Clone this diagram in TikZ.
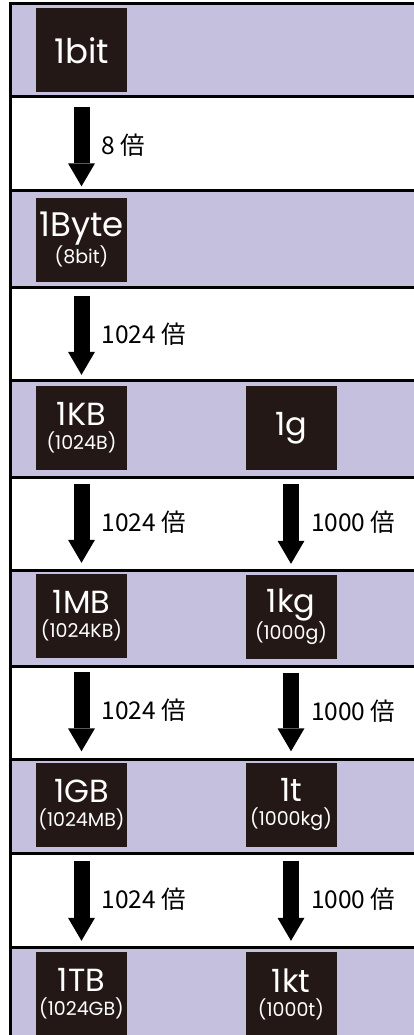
\documentclass[tikz,border=0pt]{standalone}
\usepackage{fontspec}
\setmainfont{Poppins}
\newfontfamily\jpfont{Noto Sans CJK JP}
\usetikzlibrary{arrows.meta}

\definecolor{lilac}{RGB}{197,192,221}
\definecolor{ink}{RGB}{35,24,21}
\newcommand{\subval}[1]{{\fontsize{19}{19}\selectfont #1}}

\begin{document}
\begin{tikzpicture}[x=1pt, y=-1pt,
  unit/.style={rectangle, fill=ink, text=white, minimum width=91pt, minimum height=84pt, inner sep=0pt, align=center, font=\fontsize{32}{24}\selectfont},
  bigunit/.style={unit, font=\fontsize{34}{25}\selectfont},
  times/.style={line width=16pt, -{Triangle[width=27pt, length=23pt, line width=0pt]}, shorten <=14pt, shorten >=11pt},
  ratio/.style={anchor=west, inner sep=0pt, xshift=12pt, font=\jpfont\fontsize{24.5}{24.5}\selectfont},
  rule/.style={line width=3pt}]
  \useasboundingbox (0,0) rectangle (414,1035);

  % bands
  \foreach \top/\bot in {4/97, 190/287, 380/477, 570/666, 759/853, 947/1035}
    \fill[lilac] (10,\top) rectangle (414,\bot);
  \foreach \y in {4, 97, 190, 287, 380, 477, 570, 666, 759, 853, 947}
    \draw[rule] (10,\y) -- (414,\y);
  \draw[rule] (10,2.5) -- (10,1035);

  % data units
  \node (bit) [bigunit] at (81.5, 50.5) {1bit};
  \node (byte) [bigunit] at (81.5, 239.5) {1Byte\\\subval{(8bit)}};
  \node (kb) [unit] at (81.5, 428) {1KB\\\subval{(1024B)}};
  \node (mb) [unit] at (81.5, 616) {1MB\\\subval{(1024KB)}};
  \node (gb) [unit] at (81.5, 804.5) {1GB\\\subval{(1024MB)}};
  \node (tb) [unit] at (81.5, 994) {1TB\\\subval{(1024GB)}};

  % weight units
  \node (g) [unit] at (291, 428) {1g};
  \node (kg) [unit] at (291, 617) {1kg\\\subval{(1000g)}};
  \node (t) [unit] at (291, 804.5) {1t\\\subval{(1000kg)}};
  \node (kt) [unit] at (291, 994) {1kt\\\subval{(1000t)}};

  \draw[times] (bit) to node[ratio] {8 倍} (byte);
  \draw[times] (byte) to node[ratio] {1024 倍} (kb);
  \draw[times] (kb) to node[ratio] {1024 倍} (mb);
  \draw[times] (mb) to node[ratio] {1024 倍} (gb);
  \draw[times] (gb) to node[ratio] {1024 倍} (tb);
  \draw[times] (g) to node[ratio] {1000 倍} (kg);
  \draw[times] (kg) to node[ratio] {1000 倍} (t);
  \draw[times] (t) to node[ratio] {1000 倍} (kt);
\end{tikzpicture}
\end{document}
